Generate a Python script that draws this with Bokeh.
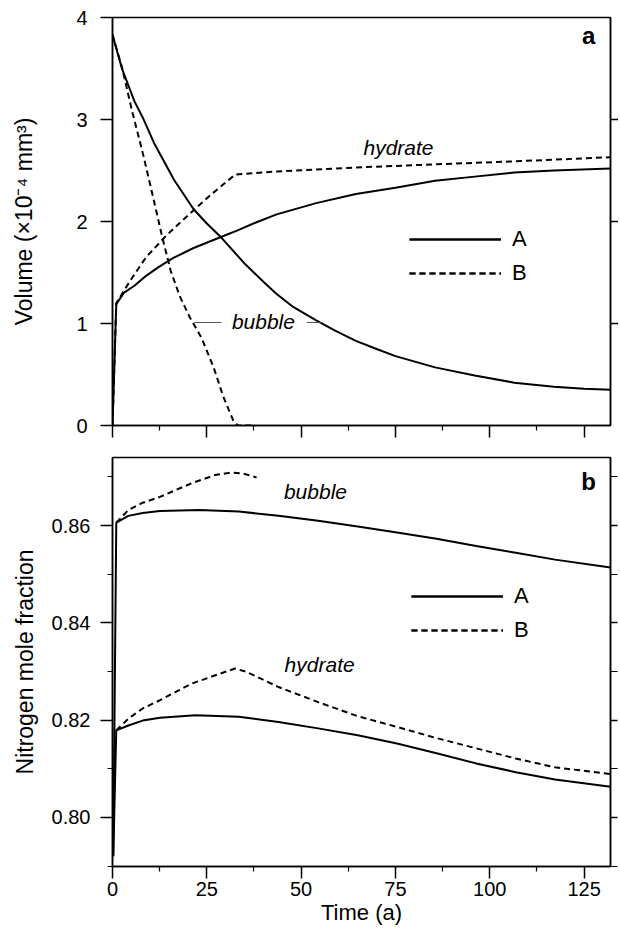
from bokeh.plotting import figure
from bokeh.models import (Range1d, LinearAxis, FixedTicker, Legend, LegendItem,
                          Label, NumeralTickFormatter)
from bokeh.layouts import column
from bokeh.embed import file_html
from bokeh.resources import INLINE

FONT = "Liberation Sans"

# ---------------- data: panel a (volume, x10^-4 mm^3) ----------------
a_A_bubble_t = [0, 2.5, 5.8, 8.0, 11.0, 16.3, 21.5, 25.0, 28.9, 35.2, 40.0, 43.5, 48.0, 54.0, 59.0, 64.5, 70.0, 75.0, 85.5, 96.0, 106.5, 117.0, 125.0, 132.0]
a_A_bubble_v = [3.83, 3.50, 3.18, 3.02, 2.77, 2.41, 2.12, 1.98, 1.84, 1.58, 1.41, 1.29, 1.16, 1.03, 0.93, 0.83, 0.75, 0.68, 0.57, 0.49, 0.42, 0.38, 0.36, 0.35]

a_A_hydrate_t = [0, 1.0, 3.0, 5.8, 9.0, 12.1, 16.0, 21.5, 28.9, 33.0, 38.0, 43.5, 54.0, 64.5, 75.0, 85.5, 96.0, 106.5, 117.0, 132.0]
a_A_hydrate_v = [0.0, 1.19, 1.30, 1.37, 1.47, 1.55, 1.64, 1.74, 1.85, 1.91, 1.99, 2.07, 2.18, 2.27, 2.33, 2.40, 2.44, 2.48, 2.50, 2.52]

a_B_bubble_t = [0, 2.6, 5.2, 7.9, 10.5, 13.1, 15.4, 17.8, 20.5, 23.6, 26.8, 29.4, 32.0, 33.2, 37.4]
a_B_bubble_v = [3.83, 3.50, 3.08, 2.69, 2.28, 1.86, 1.52, 1.27, 1.06, 0.86, 0.57, 0.28, 0.05, 0.0, 0.0]

a_B_hydrate_t = [0, 1.0, 4.7, 8.9, 14.2, 19.4, 25.7, 29.9, 32.5, 43.5, 64.5, 85.5, 106.5, 132.0]
a_B_hydrate_v = [0.0, 1.20, 1.42, 1.65, 1.86, 2.04, 2.25, 2.38, 2.46, 2.49, 2.53, 2.56, 2.59, 2.63]

# ---------------- data: panel b (nitrogen mole fraction) ----------------
b_A_bubble_t = [0.2, 1.0, 4.2, 8.0, 12.6, 23.0, 33.5, 44.0, 54.5, 65.0, 75.4, 85.9, 96.4, 106.9, 117.3, 132.0]
b_A_bubble_v = [0.792, 0.8606, 0.8620, 0.8626, 0.8630, 0.8632, 0.8629, 0.8620, 0.8610, 0.8598, 0.8586, 0.8573, 0.8558, 0.8544, 0.8530, 0.8514]

b_B_bubble_t = [1.0, 4.2, 8.0, 12.6, 17.0, 21.0, 27.2, 31.4, 34.6, 38.2]
b_B_bubble_v = [0.8606, 0.8632, 0.8647, 0.8659, 0.8674, 0.8687, 0.8704, 0.8709, 0.8707, 0.8699]

b_A_hydrate_t = [0.2, 1.0, 4.2, 8.0, 12.6, 22.0, 33.5, 44.0, 54.5, 65.0, 75.4, 85.9, 96.4, 106.9, 117.3, 132.0]
b_A_hydrate_v = [0.792, 0.8179, 0.8189, 0.8199, 0.8205, 0.8210, 0.8207, 0.8196, 0.8183, 0.8169, 0.8152, 0.8132, 0.8111, 0.8093, 0.8078, 0.8063]

b_B_hydrate_t = [1.0, 4.2, 8.0, 12.6, 17.0, 21.0, 28.3, 32.5, 35.6, 44.0, 54.5, 65.0, 75.4, 85.9, 96.4, 106.9, 117.3, 132.0]
b_B_hydrate_v = [0.8179, 0.8203, 0.8224, 0.8241, 0.8259, 0.8275, 0.8295, 0.8306, 0.8299, 0.8268, 0.8237, 0.8208, 0.8186, 0.8163, 0.8142, 0.8121, 0.8103, 0.8089]

# ---------------- ticks ----------------
x_ticks = [0, 25, 50, 75, 100, 125]
x_minor = [12.5, 37.5, 62.5, 87.5, 112.5]
ya_ticks = [0, 1, 2, 3, 4]
ya_right_ticks = [1, 2, 3]
yb_ticks = [0.80, 0.82, 0.84, 0.86]
yb_minor = [0.79, 0.81, 0.83, 0.85, 0.87]

X_MAX = 132
DASH = "6 4"
LW = 2


def style_axis(ax, tick_out, minor_out, show_labels=True):
    ax.axis_line_color = "black"
    ax.axis_line_width = 1.5
    ax.major_tick_line_color = "black"
    ax.major_tick_line_width = 1.5
    ax.major_tick_in = 0
    ax.major_tick_out = tick_out
    ax.minor_tick_line_color = "black"
    ax.minor_tick_line_width = 1.2
    ax.minor_tick_in = 0
    ax.minor_tick_out = minor_out
    ax.major_label_text_font = FONT
    ax.major_label_text_color = "black"
    ax.axis_label_text_font = FONT
    ax.axis_label_text_font_style = "normal"
    ax.axis_label_text_color = "black"
    if show_labels:
        ax.major_label_text_font_size = "20px"
    else:
        ax.major_label_text_font_size = "1px"
        ax.major_label_text_alpha = 0
        ax.major_label_standoff = 0


def make_fig(y0, y1, top, bottom, fh):
    p = figure(frame_width=498, frame_height=fh,
               x_range=Range1d(0, X_MAX), y_range=Range1d(y0, y1),
               x_axis_type=None, y_axis_type=None,
               output_backend="svg", toolbar_location=None,
               min_border_left=112, min_border_right=8,
               min_border_top=top, min_border_bottom=bottom,
               background_fill_color="white", border_fill_color="white")
    p.outline_line_color = "black"
    p.outline_line_width = 1.5
    p.xgrid.visible = False
    p.ygrid.visible = False
    return p


def legend_for(p, rA, rB, loc):
    leg = Legend(items=[LegendItem(label="A", renderers=rA),
                        LegendItem(label="B", renderers=rB)],
                 location=loc, glyph_width=92, glyph_height=30,
                 label_height=30, spacing=4, padding=0, margin=0,
                 label_standoff=11, border_line_alpha=0,
                 background_fill_alpha=0,
                 label_text_font=FONT, label_text_font_size="22px",
                 label_text_color="black")
    p.add_layout(leg)


def note(p, x, y, text, size="21px", style="italic"):
    p.add_layout(Label(x=x, y=y, text=text, text_font=FONT, text_font_size=size,
                       text_font_style=style, text_color="black",
                       text_align="center", text_baseline="middle"))


# ================= panel a =================
p1 = make_fig(0, 4, 17, 16, 408)
ax = LinearAxis(ticker=FixedTicker(ticks=ya_ticks), axis_label="Volume (×10⁻⁴ mm³)")
style_axis(ax, 12, 0)
ax.major_label_standoff = 13
ax.axis_label_standoff = 36
ax.axis_label_text_font_size = "23px"
p1.add_layout(ax, "left")
ax = LinearAxis(ticker=FixedTicker(ticks=ya_right_ticks))
style_axis(ax, 8, 0, show_labels=False)
p1.add_layout(ax, "right")
ax = LinearAxis(ticker=FixedTicker(ticks=x_ticks, minor_ticks=x_minor))
style_axis(ax, 12, 5, show_labels=False)
p1.add_layout(ax, "below")

r1 = p1.line(a_A_bubble_t, a_A_bubble_v, line_color="black", line_width=LW)
r2 = p1.line(a_A_hydrate_t, a_A_hydrate_v, line_color="black", line_width=LW)
r3 = p1.line(a_B_bubble_t, a_B_bubble_v, line_color="black", line_width=LW, line_dash=DASH)
r4 = p1.line(a_B_hydrate_t, a_B_hydrate_v, line_color="black", line_width=LW, line_dash=DASH)
legend_for(p1, [r1, r2], [r3, r4], (297, 137))

# leader lines for the "bubble" label
p1.segment(x0=[21.7, 51.5], y0=[1.01, 1.01], x1=[28.9, 55.8], y1=[1.01, 1.01],
           line_color="#555555", line_width=1)
note(p1, 75.8, 2.73, "hydrate")
note(p1, 40.0, 1.02, "bubble")
note(p1, 126.2, 3.82, "a", "24px", "bold")

# ================= panel b =================
p2 = make_fig(0.7899, 0.874, 16, 62, 409)
ax = LinearAxis(ticker=FixedTicker(ticks=yb_ticks, minor_ticks=yb_minor),
                axis_label="Nitrogen mole fraction",
                formatter=NumeralTickFormatter(format="0.00"))
style_axis(ax, 12, 5)
ax.major_label_standoff = 10
ax.axis_label_standoff = 11
ax.axis_label_text_font_size = "23px"
p2.add_layout(ax, "left")
ax = LinearAxis(ticker=FixedTicker(ticks=yb_ticks, minor_ticks=yb_minor))
style_axis(ax, 7, 7, show_labels=False)
p2.add_layout(ax, "right")
ax = LinearAxis(ticker=FixedTicker(ticks=x_ticks, minor_ticks=x_minor), axis_label="Time (a)")
style_axis(ax, 12, 5)
ax.major_label_standoff = 3
ax.axis_label_standoff = 1
ax.axis_label_text_font_size = "22px"
p2.add_layout(ax, "below")

s1 = p2.line(b_A_bubble_t, b_A_bubble_v, line_color="black", line_width=LW)
s2 = p2.line(b_A_hydrate_t, b_A_hydrate_v, line_color="black", line_width=LW)
s3 = p2.line(b_B_bubble_t, b_B_bubble_v, line_color="black", line_width=LW, line_dash=DASH)
s4 = p2.line(b_B_hydrate_t, b_B_hydrate_v, line_color="black", line_width=LW, line_dash=DASH)
legend_for(p2, [s1, s2], [s3, s4], (299, 221))

note(p2, 53.8, 0.8670, "bubble")
note(p2, 54.9, 0.8315, "hydrate")
note(p2, 126.2, 0.8691, "b", "24px", "bold")

layout = column(p1, p2, spacing=0)
open("out.html", "w").write(file_html(layout, INLINE))
